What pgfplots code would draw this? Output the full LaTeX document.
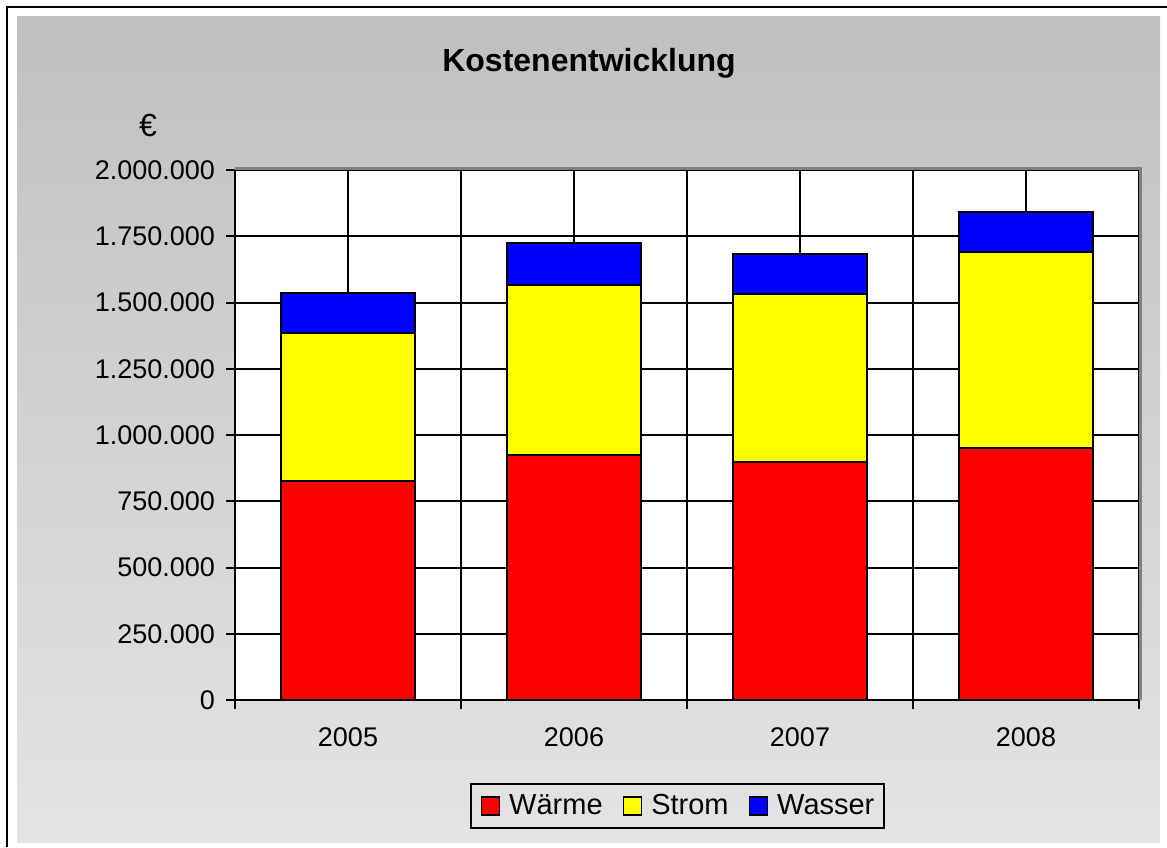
\documentclass[border=0pt]{standalone}
\usepackage{pgfplots}
\pgfplotsset{compat=1.18}
\usepackage{fontspec}
\setmainfont{Liberation Sans}
\definecolor{bgtop}{RGB}{192,192,192}
\definecolor{bgbot}{RGB}{228,228,228}
\definecolor{framegray}{RGB}{128,128,128}
\definecolor{cred}{RGB}{255,0,0}
\definecolor{cyellow}{RGB}{255,255,0}
\definecolor{cblue}{RGB}{0,0,255}
\begin{document}
\begin{tikzpicture}
\path[use as bounding box] (0,0) rectangle (583.5pt,423.5pt);
\fill[white] (0,0) rectangle (583.5pt,423.5pt);
\shade[top color=bgtop, bottom color=bgbot] (8.5pt,2.5pt) rectangle (580pt,415pt);
\draw[line width=1.25pt] (3.5pt,0) -- (3.5pt,420pt) -- (583.5pt,420pt);
\node[font=\fontsize{16}{19}\selectfont\bfseries, anchor=base, inner sep=0pt] at (294.5pt,387.5pt) {Kostenentwicklung};
\node[font=\fontsize{16}{19}\selectfont, anchor=base, inner sep=0pt] at (74pt,355pt) {€};
\begin{axis}[
  at={(117.5pt,73.5pt)}, anchor=south west,
  width=452pt, height=265pt, scale only axis,
  ybar stacked, bar width=0.59,
  xmin=-0.5, xmax=3.5, ymin=0, ymax=2000000,
  xtick={0,1,2,3}, xticklabels={2005,2006,2007,2008},
  minor xtick={-0.5,0.5,1.5,2.5,3.5},
  ytick={0,250000,500000,750000,1000000,1250000,1500000,1750000,2000000},
  scaled y ticks=false,
  tick label style={font=\fontsize{13.5}{16}\selectfont, black},
  xticklabel style={yshift=-6pt},
  yticklabel style={xshift=-2pt, /pgf/number format/.cd, fixed, precision=0, 1000 sep={.}, assume math mode=true},
  axis background/.style={fill=white},
  axis x line*=bottom, axis y line*=left,
  axis line style={-, line width=1.3pt, black},
  xmajorgrids=true, xminorgrids=true, ymajorgrids=true,
  grid style={black, line width=1pt},
  minor grid style={black, line width=1pt},
  tick align=outside,
  major tick length=4.5pt, minor tick length=4.5pt,
  tick style={black, line width=1pt},
  major x tick style={draw=none},
  legend style={at={(0.4895,-0.2)}, anchor=center, legend columns=3,
    draw=black, line width=1pt, fill=none, font=\fontsize{14.5}{17}\selectfont,
    inner xsep=5pt, inner ysep=5pt,
    nodes={inner sep=0pt},
    /tikz/every odd column/.append style={column sep=4.5pt},
    /tikz/every even column/.append style={column sep=10pt}},
  legend image code/.code={\draw[#1, draw=black, line width=0.8pt] (0pt,-4.5pt) rectangle (9pt,4.5pt);},
  after end axis/.code={\draw[framegray, line width=1.5pt] (rel axis cs:0,1) ++(0,0.5pt) -- ([xshift=0.5pt,yshift=0.5pt]rel axis cs:1,1) -- ([xshift=0.5pt]rel axis cs:1,0);},
]
\addplot[fill=cred, draw=black, line width=1pt] coordinates {(0,826000) (1,923000) (2,898000) (3,950000)};
\addplot[fill=cyellow, draw=black, line width=1pt] coordinates {(0,559000) (1,643000) (2,633000) (3,742000)};
\addplot[fill=cblue, draw=black, line width=1pt] coordinates {(0,152000) (1,158000) (2,152000) (3,151000)};
\legend{Wärme,Strom,Wasser}
\end{axis}
\end{tikzpicture}
\end{document}
